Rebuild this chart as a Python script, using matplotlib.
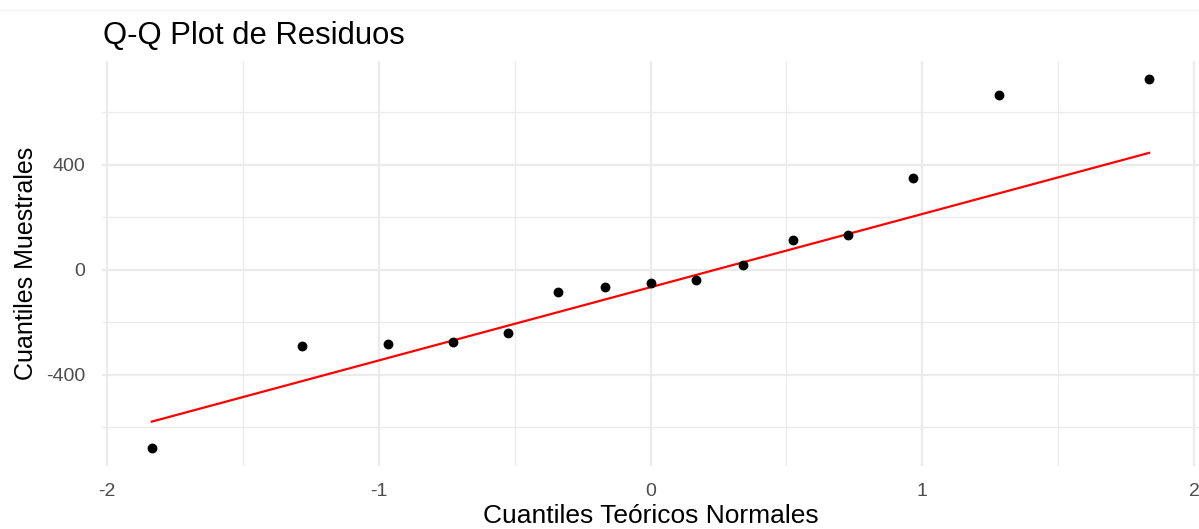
import matplotlib
matplotlib.use('Agg')
import matplotlib.pyplot as plt
from matplotlib.lines import Line2D
import numpy as np

# cuantiles teoricos (normal) y residuos ordenados
teoricos = [-1.834, -1.282, -0.967, -0.728, -0.524, -0.341, -0.168, 0.0,
            0.168, 0.341, 0.524, 0.728, 0.967, 1.282, 1.834]
residuos = [-678, -290, -282, -274, -240, -84, -65, -50,
            -38, 19, 114, 133, 350, 667, 728]

# extremos de la linea de referencia (qqline)
linea_x = [-1.834, 1.834]
linea_y = [-579, 446]

x_ticks = [-2, -1, 0, 1, 2]
y_ticks = [-400, 0, 400]

plt.rcParams['font.family'] = ['Liberation Sans', 'DejaVu Sans']

fig = plt.figure(figsize=(11.99, 5.29), dpi=100)
ax = fig.add_axes([102 / 1199, 1 - 466 / 529, 1097 / 1199, (466 - 60.5) / 529])

ax.scatter(teoricos, residuos, s=50, color='black', zorder=3, linewidths=0)
ax.plot(linea_x, linea_y, color='red', lw=1.6, zorder=2)

# escalas con 5% de expansion como ggplot
xr = max(teoricos) - min(teoricos)
yr = max(residuos) - min(residuos)
ax.set_xlim(min(teoricos) - 0.05 * xr, max(teoricos) + 0.05 * xr)
ax.set_ylim(min(residuos) - 0.05 * yr, max(residuos) + 0.05 * yr)

ax.set_xticks(x_ticks)
ax.set_xticklabels([str(t) for t in x_ticks])
ax.set_yticks(y_ticks)
ax.set_yticklabels([str(t) for t in y_ticks])
ax.set_xticks([-1.5, -0.5, 0.5, 1.5], minor=True)
ax.set_yticks([-600, -200, 200, 600], minor=True)

ax.grid(which='major', color='#EBEBEB', lw=1.6)
ax.grid(which='minor', color='#EBEBEB', lw=0.9)
ax.set_axisbelow(True)
for s in ax.spines.values():
    s.set_visible(False)
ax.tick_params(which='both', length=0)
ax.tick_params(axis='x', labelsize=14, colors='#4D4D4D', pad=12)
ax.tick_params(axis='y', labelsize=14, colors='#4D4D4D', pad=12)

ax.set_xlabel('Cuantiles Teóricos Normales', fontsize=19, color='black', labelpad=3)
ax.set_ylabel('Cuantiles Muestrales', fontsize=18, color='black', labelpad=6)
fig.text(103 / 1199, 1 - 36 / 529, 'Q-Q Plot de Residuos', fontsize=22.3,
         ha='left', va='center', color='black')

fig.add_artist(Line2D([0, 1], [1 - 10 / 529, 1 - 10 / 529], color='#F2F2F2', lw=1))

fig.savefig('out.png', dpi=100)
